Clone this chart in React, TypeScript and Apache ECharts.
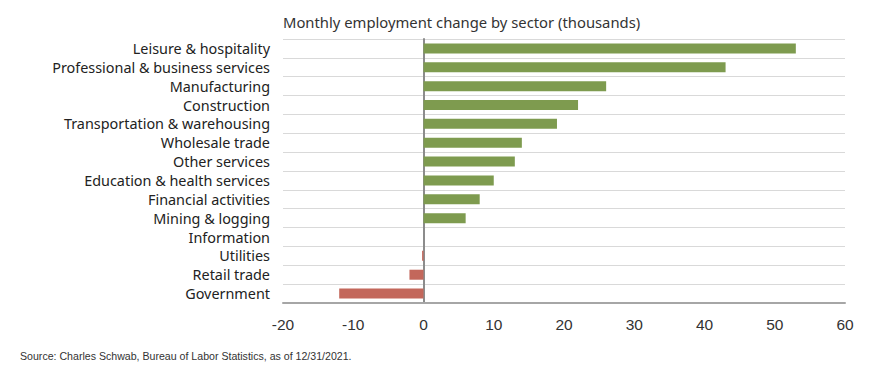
import React, { useEffect, useRef } from "react";
import * as echarts from "echarts";

const categories = [
  "Leisure & hospitality",
  "Professional & business services",
  "Manufacturing",
  "Construction",
  "Transportation & warehousing",
  "Wholesale trade",
  "Other services",
  "Education & health services",
  "Financial activities",
  "Mining & logging",
  "Information",
  "Utilities",
  "Retail trade",
  "Government",
];
const values = [53, 43, 26, 22, 19, 14, 13, 10, 8, 6, 0, -0.2, -2, -12];
const xTicks = [-20, -10, 0, 10, 20, 30, 40, 50, 60];

const GREEN = "#7e9b4f";
const RED = "#c3675b";

export default function App() {
  const ref = useRef<HTMLDivElement>(null);
  useEffect(() => {
    const chart = echarts.init(ref.current!, null, { renderer: "svg" });
    chart.setOption({
      animation: false,
      backgroundColor: "#fff",
      title: [
        {
          text: "Monthly employment change by sector (thousands)",
          left: 278,
          top: 9,
          textStyle: { fontFamily: "Noto Sans", fontSize: 14.8, fontWeight: "normal", color: "#333" },
        },
        {
          text: "Source: Charles Schwab, Bureau of Labor Statistics, as of 12/31/2021.",
          left: 15,
          top: 345,
          textStyle: { fontFamily: "Liberation Sans", fontSize: 10.6, fontWeight: "normal", color: "#333" },
        },
      ],
      grid: { left: 283, right: 51, top: 39, bottom: 67, containLabel: false },
      xAxis: {
        type: "value",
        min: xTicks[0],
        max: xTicks[xTicks.length - 1],
        interval: 10,
        axisLine: { show: true, onZero: false, lineStyle: { color: "#a6a6a6", width: 2 } },
        axisTick: { show: false },
        splitLine: { show: false },
        axisLabel: { fontFamily: "Liberation Sans", fontSize: 15.5, color: "#333", margin: 13 },
      },
      yAxis: {
        type: "category",
        data: categories,
        inverse: true,
        axisLine: { show: true, onZero: true, lineStyle: { color: "#8c8c8c", width: 2 } },
        axisTick: { show: false, interval: 0 },
        splitLine: { show: true, interval: 0, lineStyle: { color: "#d9d9d9", width: 1 } },
        axisLabel: {
          interval: 0,
          hideOverlap: false,
          fontFamily: "Noto Sans",
          fontSize: 14.4,
          color: "#222",
          margin: 0,
          padding: [0, 13, 0, 0],
        },
        position: "left",
      },
      series: [
        {
          type: "bar",
          barWidth: 10,
          data: values.map((v) => ({ value: v, itemStyle: { color: v < 0 ? RED : GREEN } })),
        },
      ],
    });
    return () => chart.dispose();
  }, []);
  return (
    <div
      ref={ref}
      style={{ position: "fixed", left: 0, top: 0, width: 896, height: 370 }}
    />
  );
}
